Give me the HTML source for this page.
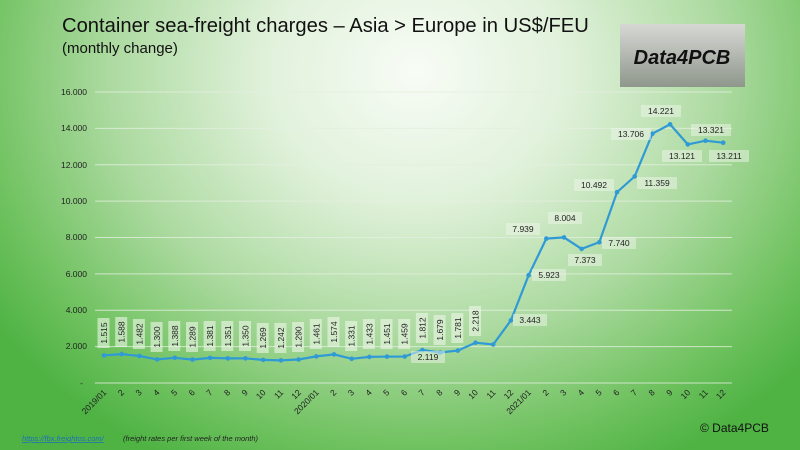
<!DOCTYPE html>
<html><head><meta charset="utf-8"><style>
body{margin:0}
#c{width:800px;height:450px;position:relative;overflow:hidden;font-family:"Liberation Sans",sans-serif;
background:radial-gradient(ellipse 64% 98% at 52% 16%,#f8fcf6 0%,#e0f1da 30%,#acdaa0 60%,#70c260 85%,#4fb344 100%);}
</style></head><body><div id="c">
<svg width="800" height="450" xmlns="http://www.w3.org/2000/svg" style="position:absolute;left:0;top:0" font-family="Liberation Sans, sans-serif">
<defs><linearGradient id="g" x1="0" y1="0" x2="0" y2="1"><stop offset="0" stop-color="#d6d8d4"/><stop offset="1" stop-color="#8f978c"/></linearGradient></defs>
<text x="62" y="32" font-size="20.2" fill="#111">Container sea-freight charges – Asia &gt; Europe in US$/FEU</text>
<text x="62" y="53" font-size="15" fill="#111">(monthly change)</text>
<rect x="620" y="24" width="125" height="63" fill="url(#g)"/>
<text x="682" y="64" font-size="20" font-weight="bold" font-style="italic" text-anchor="middle" fill="#111">Data4PCB</text>
<g stroke="#e4efe0" stroke-width="1" opacity="0.8">
<line x1="95" x2="732" y1="92" y2="92"/><line x1="95" x2="732" y1="128.4" y2="128.4"/><line x1="95" x2="732" y1="164.8" y2="164.8"/><line x1="95" x2="732" y1="201.1" y2="201.1"/><line x1="95" x2="732" y1="237.5" y2="237.5"/><line x1="95" x2="732" y1="273.9" y2="273.9"/><line x1="95" x2="732" y1="310.2" y2="310.2"/><line x1="95" x2="732" y1="346.6" y2="346.6"/><line x1="95" x2="732" y1="383" y2="383"/>
</g>
<g font-size="8.5" fill="#222" text-anchor="end">
<text x="87" y="95">16.000</text><text x="87" y="131">14.000</text><text x="87" y="168">12.000</text><text x="87" y="204">10.000</text><text x="87" y="240">8.000</text><text x="87" y="277">6.000</text><text x="87" y="313">4.000</text><text x="87" y="349">2.000</text><text x="83" y="386">-</text>
</g>
<polyline fill="none" stroke="#2f9ad6" stroke-width="2.2" points="104,355.4 121.7,354.1 139.4,356 157.1,359.4 174.8,357.8 192.5,359.6 210.1,357.9 227.8,358.4 245.5,358.4 263.2,359.9 280.9,360.4 298.6,359.5 316.3,356.4 334,354.4 351.7,358.8 369.4,356.9 387,356.6 404.7,356.5 422.4,350 440.1,352.5 457.8,350.6 475.5,342.7 493.2,344.5 510.9,320.4 528.6,275.3 546.3,238.6 564,237.4 581.6,248.9 599.3,242.2 617,192.2 634.7,176.4 652.4,133.7 670.1,124.3 687.8,144.4 705.5,140.7 723.2,142.7"/>
<g fill="#2f9ad6">
<circle cx="104" cy="355.4" r="2.3"/><circle cx="121.7" cy="354.1" r="2.3"/><circle cx="139.4" cy="356" r="2.3"/><circle cx="157.1" cy="359.4" r="2.3"/><circle cx="174.8" cy="357.8" r="2.3"/><circle cx="192.5" cy="359.6" r="2.3"/><circle cx="210.1" cy="357.9" r="2.3"/><circle cx="227.8" cy="358.4" r="2.3"/><circle cx="245.5" cy="358.4" r="2.3"/><circle cx="263.2" cy="359.9" r="2.3"/><circle cx="280.9" cy="360.4" r="2.3"/><circle cx="298.6" cy="359.5" r="2.3"/><circle cx="316.3" cy="356.4" r="2.3"/><circle cx="334" cy="354.4" r="2.3"/><circle cx="351.7" cy="358.8" r="2.3"/><circle cx="369.4" cy="356.9" r="2.3"/><circle cx="387" cy="356.6" r="2.3"/><circle cx="404.7" cy="356.5" r="2.3"/><circle cx="422.4" cy="350" r="2.3"/><circle cx="440.1" cy="352.5" r="2.3"/><circle cx="457.8" cy="350.6" r="2.3"/><circle cx="475.5" cy="342.7" r="2.3"/><circle cx="493.2" cy="344.5" r="2.3"/><circle cx="510.9" cy="320.4" r="2.3"/><circle cx="528.6" cy="275.3" r="2.3"/><circle cx="546.3" cy="238.6" r="2.3"/><circle cx="564" cy="237.4" r="2.3"/><circle cx="581.6" cy="248.9" r="2.3"/><circle cx="599.3" cy="242.2" r="2.3"/><circle cx="617" cy="192.2" r="2.3"/><circle cx="634.7" cy="176.4" r="2.3"/><circle cx="652.4" cy="133.7" r="2.3"/><circle cx="670.1" cy="124.3" r="2.3"/><circle cx="687.8" cy="144.4" r="2.3"/><circle cx="705.5" cy="140.7" r="2.3"/><circle cx="723.2" cy="142.7" r="2.3"/>
</g>
<g font-size="8.5" fill="#222" text-anchor="middle">
<g transform="translate(104,333) rotate(-90)"><rect x="-15" y="-6.5" width="30" height="12" fill="#eef6ea" opacity="0.6"/><text y="3">1.515</text></g>
<g transform="translate(121.7,332) rotate(-90)"><rect x="-15" y="-6.5" width="30" height="12" fill="#eef6ea" opacity="0.6"/><text y="3">1.588</text></g>
<g transform="translate(139.4,334) rotate(-90)"><rect x="-15" y="-6.5" width="30" height="12" fill="#eef6ea" opacity="0.6"/><text y="3">1.482</text></g>
<g transform="translate(157.1,337) rotate(-90)"><rect x="-15" y="-6.5" width="30" height="12" fill="#eef6ea" opacity="0.6"/><text y="3">1.300</text></g>
<g transform="translate(174.8,336) rotate(-90)"><rect x="-15" y="-6.5" width="30" height="12" fill="#eef6ea" opacity="0.6"/><text y="3">1.388</text></g>
<g transform="translate(192.5,337) rotate(-90)"><rect x="-15" y="-6.5" width="30" height="12" fill="#eef6ea" opacity="0.6"/><text y="3">1.289</text></g>
<g transform="translate(210.1,336) rotate(-90)"><rect x="-15" y="-6.5" width="30" height="12" fill="#eef6ea" opacity="0.6"/><text y="3">1.381</text></g>
<g transform="translate(227.8,336) rotate(-90)"><rect x="-15" y="-6.5" width="30" height="12" fill="#eef6ea" opacity="0.6"/><text y="3">1.351</text></g>
<g transform="translate(245.5,336) rotate(-90)"><rect x="-15" y="-6.5" width="30" height="12" fill="#eef6ea" opacity="0.6"/><text y="3">1.350</text></g>
<g transform="translate(263.2,338) rotate(-90)"><rect x="-15" y="-6.5" width="30" height="12" fill="#eef6ea" opacity="0.6"/><text y="3">1.269</text></g>
<g transform="translate(280.9,338) rotate(-90)"><rect x="-15" y="-6.5" width="30" height="12" fill="#eef6ea" opacity="0.6"/><text y="3">1.242</text></g>
<g transform="translate(298.6,337) rotate(-90)"><rect x="-15" y="-6.5" width="30" height="12" fill="#eef6ea" opacity="0.6"/><text y="3">1.290</text></g>
<g transform="translate(316.3,334) rotate(-90)"><rect x="-15" y="-6.5" width="30" height="12" fill="#eef6ea" opacity="0.6"/><text y="3">1.461</text></g>
<g transform="translate(334,332) rotate(-90)"><rect x="-15" y="-6.5" width="30" height="12" fill="#eef6ea" opacity="0.6"/><text y="3">1.574</text></g>
<g transform="translate(351.7,336) rotate(-90)"><rect x="-15" y="-6.5" width="30" height="12" fill="#eef6ea" opacity="0.6"/><text y="3">1.331</text></g>
<g transform="translate(369.4,334) rotate(-90)"><rect x="-15" y="-6.5" width="30" height="12" fill="#eef6ea" opacity="0.6"/><text y="3">1.433</text></g>
<g transform="translate(387,334) rotate(-90)"><rect x="-15" y="-6.5" width="30" height="12" fill="#eef6ea" opacity="0.6"/><text y="3">1.451</text></g>
<g transform="translate(404.7,334) rotate(-90)"><rect x="-15" y="-6.5" width="30" height="12" fill="#eef6ea" opacity="0.6"/><text y="3">1.459</text></g>
<g transform="translate(422.4,328) rotate(-90)"><rect x="-15" y="-6.5" width="30" height="12" fill="#eef6ea" opacity="0.6"/><text y="3">1.812</text></g>
<g transform="translate(440.1,330) rotate(-90)"><rect x="-15" y="-6.5" width="30" height="12" fill="#eef6ea" opacity="0.6"/><text y="3">1.679</text></g>
<g transform="translate(457.8,328) rotate(-90)"><rect x="-15" y="-6.5" width="30" height="12" fill="#eef6ea" opacity="0.6"/><text y="3">1.781</text></g>
<g transform="translate(475.5,321) rotate(-90)"><rect x="-15" y="-6.5" width="30" height="12" fill="#eef6ea" opacity="0.6"/><text y="3">2.218</text></g>
<g>
<rect x="411" y="351" width="34" height="12" fill="#eef6ea" opacity="0.5"/><text x="428" y="360">2.119</text>
<rect x="513" y="314" width="34" height="12" fill="#eef6ea" opacity="0.5"/><text x="530" y="323">3.443</text>
<rect x="532" y="269" width="34" height="12" fill="#eef6ea" opacity="0.5"/><text x="549" y="278">5.923</text>
<rect x="506" y="223" width="34" height="12" fill="#eef6ea" opacity="0.5"/><text x="523" y="232">7.939</text>
<rect x="548" y="212" width="34" height="12" fill="#eef6ea" opacity="0.5"/><text x="565" y="221">8.004</text>
<rect x="568" y="254" width="34" height="12" fill="#eef6ea" opacity="0.5"/><text x="585" y="263">7.373</text>
<rect x="602" y="237" width="34" height="12" fill="#eef6ea" opacity="0.5"/><text x="619" y="246">7.740</text>
<rect x="574" y="179" width="40" height="12" fill="#eef6ea" opacity="0.5"/><text x="594" y="188">10.492</text>
<rect x="637" y="177" width="40" height="12" fill="#eef6ea" opacity="0.5"/><text x="657" y="186">11.359</text>
<rect x="611" y="128" width="40" height="12" fill="#eef6ea" opacity="0.5"/><text x="631" y="137">13.706</text>
<rect x="641" y="105" width="40" height="12" fill="#eef6ea" opacity="0.5"/><text x="661" y="114">14.221</text>
<rect x="662" y="150" width="40" height="12" fill="#eef6ea" opacity="0.5"/><text x="682" y="159">13.121</text>
<rect x="691" y="124" width="40" height="12" fill="#eef6ea" opacity="0.5"/><text x="711" y="133">13.321</text>
<rect x="709" y="150" width="40" height="12" fill="#eef6ea" opacity="0.5"/><text x="729" y="159">13.211</text>
</g></g>
<g font-size="8.5" fill="#222" text-anchor="end">
<text transform="translate(107,393) rotate(-45)">2019/01</text>
<text transform="translate(124.7,393) rotate(-45)">2</text><text transform="translate(142.4,393) rotate(-45)">3</text><text transform="translate(160.1,393) rotate(-45)">4</text><text transform="translate(177.8,393) rotate(-45)">5</text><text transform="translate(195.5,393) rotate(-45)">6</text><text transform="translate(213.1,393) rotate(-45)">7</text><text transform="translate(230.8,393) rotate(-45)">8</text><text transform="translate(248.5,393) rotate(-45)">9</text><text transform="translate(266.2,393) rotate(-45)">10</text><text transform="translate(283.9,393) rotate(-45)">11</text><text transform="translate(301.6,393) rotate(-45)">12</text>
<text transform="translate(319.3,393) rotate(-45)">2020/01</text>
<text transform="translate(337,393) rotate(-45)">2</text><text transform="translate(354.7,393) rotate(-45)">3</text><text transform="translate(372.4,393) rotate(-45)">4</text><text transform="translate(390,393) rotate(-45)">5</text><text transform="translate(407.7,393) rotate(-45)">6</text><text transform="translate(425.4,393) rotate(-45)">7</text><text transform="translate(443.1,393) rotate(-45)">8</text><text transform="translate(460.8,393) rotate(-45)">9</text><text transform="translate(478.5,393) rotate(-45)">10</text><text transform="translate(496.2,393) rotate(-45)">11</text><text transform="translate(513.9,393) rotate(-45)">12</text>
<text transform="translate(531.6,393) rotate(-45)">2021/01</text>
<text transform="translate(549.3,393) rotate(-45)">2</text><text transform="translate(567,393) rotate(-45)">3</text><text transform="translate(584.6,393) rotate(-45)">4</text><text transform="translate(602.3,393) rotate(-45)">5</text><text transform="translate(620,393) rotate(-45)">6</text><text transform="translate(637.7,393) rotate(-45)">7</text><text transform="translate(655.4,393) rotate(-45)">8</text><text transform="translate(673.1,393) rotate(-45)">9</text><text transform="translate(690.8,393) rotate(-45)">10</text><text transform="translate(708.5,393) rotate(-45)">11</text><text transform="translate(726.2,393) rotate(-45)">12</text>
</g>
<text x="700" y="432" font-size="12" fill="#111">© Data4PCB</text>
<text x="22" y="441" font-size="7.5" fill="#1d6fb8" font-style="italic" text-decoration="underline">https://fbx.freightos.com/</text>
<text x="123" y="441" font-size="7.5" fill="#222" font-style="italic">(freight rates per first week of the month)</text>
</svg>
</div></body></html>
